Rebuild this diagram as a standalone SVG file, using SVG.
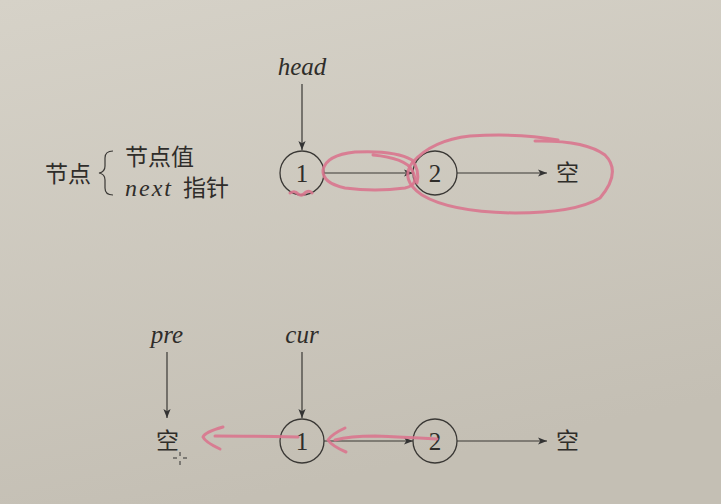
<svg xmlns="http://www.w3.org/2000/svg" width="721" height="504" viewBox="0 0 721 504">
<defs>
<linearGradient id="bg" x1="0" y1="0" x2="0.3" y2="1">
<stop offset="0" stop-color="#d6d2c8"/>
<stop offset="1" stop-color="#c4bfb4"/>
</linearGradient>
<marker id="ah" viewBox="0 0 10 10" refX="10" refY="5" markerWidth="9" markerHeight="9" markerUnits="userSpaceOnUse" orient="auto">
<path d="M0,1 L10,5 L0,9 L2.5,5 Z" fill="#333"/>
</marker>
<style>
.ln{stroke:#3a3835;stroke-width:1.2;fill:none}
.nd{stroke:#3a3835;stroke-width:1.3;fill:none}
.num{font-family:"Liberation Serif",serif;font-size:25px;fill:#2f2d2a;text-anchor:middle}
.it{font-family:"Liberation Serif",serif;font-style:italic;font-size:25px;fill:#2f2d2a;text-anchor:middle}
.cjk{font-family:"Noto Sans CJK SC",sans-serif;font-size:23px;fill:#2f2d2a}
.pk{stroke:#d9768e;stroke-width:3;fill:none;stroke-linecap:round;stroke-linejoin:round;opacity:0.9}
</style>
</defs>
<rect width="721" height="504" fill="url(#bg)"/>
<g id="legend">
<text class="cjk" x="45" y="182">节点</text>
<path class="ln" d="M113,151 Q105,151 105,158 L105,166 Q105,172 99,173 Q105,174 105,180 L105,188 Q105,195 113,195"/>
<text class="cjk" x="125" y="165">节点值</text>
<text class="it" x="125" y="196" style="text-anchor:start;letter-spacing:2px;font-size:24px">next</text>
<text class="cjk" x="183" y="196">指针</text>
</g>
<g id="top-head"><text class="it" x="302" y="75">head</text></g>
<g id="top-n1"><circle class="nd" cx="302" cy="173" r="22"/><text class="num" x="302" y="182">1</text></g>
<g id="top-n2"><circle class="nd" cx="435" cy="173" r="22"/><text class="num" x="435" y="182">2</text></g>
<g id="top-null"><text class="cjk" x="556" y="181">空</text></g>
<g id="bot-pre"><text class="it" x="167" y="343">pre</text></g>
<g id="bot-cur"><text class="it" x="302" y="343">cur</text></g>
<g id="bot-null1"><text class="cjk" x="156" y="449">空</text></g>
<g id="bot-n1"><circle class="nd" cx="302" cy="441" r="22"/><text class="num" x="302" y="450">1</text></g>
<g id="bot-n2"><circle class="nd" cx="435" cy="441" r="22"/><text class="num" x="435" y="450">2</text></g>
<g id="bot-null2"><text class="cjk" x="556" y="449">空</text></g>
<g id="connectors">
<line class="ln" x1="302" y1="84" x2="302" y2="150" marker-end="url(#ah)"/>
<line class="ln" x1="324" y1="173" x2="413" y2="173" marker-end="url(#ah)"/>
<line class="ln" x1="457" y1="173" x2="547" y2="173" marker-end="url(#ah)"/>
<line class="ln" x1="167" y1="352" x2="167" y2="418" marker-end="url(#ah)"/>
<line class="ln" x1="302" y1="352" x2="302" y2="418" marker-end="url(#ah)"/>
<line class="ln" x1="324" y1="441" x2="413" y2="441" marker-end="url(#ah)"/>
<line class="ln" x1="457" y1="441" x2="547" y2="441" marker-end="url(#ah)"/>
</g>
<g id="annotations">
<path class="pk" d="M373,155 Q405,158 412,170 Q420,185 405,188 Q375,192 345,188 Q322,183 323,170 Q326,155 355,152 Q395,150 412,160 Q420,170 417,183"/>
<path class="pk" d="M535,141 Q585,140 605,155 Q622,172 600,198 Q575,213 515,213 Q450,212 422,195 Q400,180 412,163 Q432,140 470,136 Q520,133 558,140"/>
<path class="pk" d="M290,193 Q295,190 298,194 Q302,197 306,192 Q310,190 312,193"/>
<path class="pk" d="M298,437 Q250,436 215,436"/>
<path class="pk" d="M223,427 Q205,432 203,437 Q205,442 220,449"/>
<path class="pk" d="M437,439 Q400,437 375,436 Q350,436 335,440"/>
<path class="pk" d="M345,428 Q332,434 328,440 Q332,446 346,452"/>
</g>
<g id="cursor" stroke="#333" stroke-width="1">
<line x1="180" y1="452" x2="180" y2="456"/><line x1="180" y1="461" x2="180" y2="465"/>
<line x1="173" y1="458" x2="177" y2="458"/><line x1="183" y1="458" x2="187" y2="458"/>
</g>
</svg>
